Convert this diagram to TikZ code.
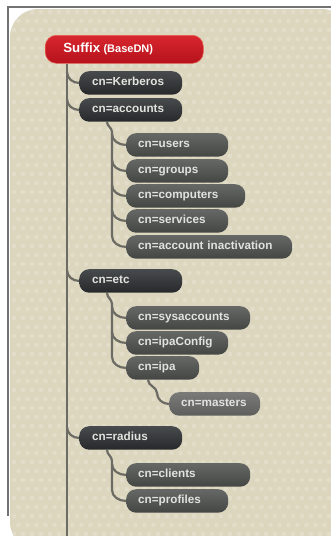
\documentclass[tikz,border=0pt]{standalone}
\usepackage{fontspec}
\setmainfont{Liberation Sans}
\usetikzlibrary{calc}
\pgfdeclarelayer{bg}
\pgfsetlayers{bg,main}
\definecolor{panel}{RGB}{220,214,191}
\definecolor{dotc}{RGB}{226,221,201}
\definecolor{framec}{RGB}{115,115,115}
\definecolor{connc}{RGB}{108,107,100}
\definecolor{redtop}{RGB}{216,38,46}
\definecolor{redbot}{RGB}{182,18,28}
\definecolor{redline}{RGB}{228,96,80}
\definecolor{dAtop}{RGB}{72,75,77}
\definecolor{dAbot}{RGB}{38,40,42}
\definecolor{dBtop}{RGB}{102,104,102}
\definecolor{dBbot}{RGB}{68,70,68}
\definecolor{dCtop}{RGB}{122,123,120}
\definecolor{dCbot}{RGB}{94,95,92}
\definecolor{txt}{RGB}{226,226,222}
\begin{document}
\begin{tikzpicture}[x=1pt,y=-1pt,
  box/.style={anchor=north west, rounded corners=10pt, minimum height=23.5pt,
    inner ysep=0pt, inner xsep=12pt, text height=8.6pt, text depth=2.6pt,
    align=left, text=txt, font=\fontsize{11.7}{14}\selectfont\bfseries},
  lvlone/.style={box, inner xsep=13pt, top color=dAtop, bottom color=dAbot, text width=#1},
  lvltwo/.style={box, top color=dBtop, bottom color=dBbot, text width=#1},
  lvlthree/.style={box, top color=dCtop, bottom color=dCbot, text width=#1},
  rootbox/.style={anchor=north west, rounded corners=11pt, minimum height=28pt,
    inner ysep=0pt, inner xsep=18pt, text height=9.6pt, text depth=3pt,
    align=left, text=white, top color=redtop, bottom color=redbot,
    draw=redline, line width=0.6pt, text width=#1},
  conn/.style={draw=connc, line width=2.2pt}
]
\clip (0,0) rectangle (330,536);
\useasboundingbox (0,0) rectangle (330,536);

% nodes
\node[rootbox=122pt] (suffix) at (45,35)
  {\fontsize{13.3}{15}\selectfont\bfseries Suffix \fontsize{11}{13}\selectfont(BaseDN)};
\node[lvlone=77pt] (kerb) at (79,71) {cn=Kerberos};
\node[lvlone=77pt] (acc) at (79,98) {cn=accounts};
\node[lvltwo=78pt] (users) at (126,133) {cn=users};
\node[lvltwo=78pt] (groups) at (126,159) {cn=groups};
\node[lvltwo=95pt] (comp) at (126,184) {cn=computers};
\node[lvltwo=78pt] (serv) at (126,209) {cn=services};
\node[lvltwo=142pt] (inact) at (126,235) {cn=account inactivation};
\node[lvlone=77pt] (etc) at (79,269) {cn=etc};
\node[lvltwo=100pt] (sysacc) at (126,306) {cn=sysaccounts};
\node[lvltwo=78pt] (ipacfg) at (126,331) {cn=ipaConfig};
\node[lvltwo=49pt] (ipa) at (126,356) {cn=ipa};
\node[lvlthree=67pt] (masters) at (169,392) {cn=masters};
\node[lvlone=77pt] (radius) at (79,426) {cn=radius};
\node[lvltwo=100pt] (clients) at (126,463) {cn=clients};
\node[lvltwo=78pt] (profiles) at (126,489) {cn=profiles};

\begin{pgfonlayer}{bg}
\fill[white] (0,0) rectangle (330,536);
\draw[framec, line width=1.2pt] (8,516) -- (8,7) -- (331,7);
\fill[panel, rounded corners=28pt] (10,9) rectangle (350,550);
\begin{scope}
  \clip[rounded corners=28pt] (10,9) rectangle (350,550);
  \foreach \i in {0,...,36} \foreach \j in {0,...,59}
    \fill[dotc] ({14+9*\i+4.5*mod(\j,2)}, {12+9*\j}) circle (2.3pt);
\end{scope}

% trunk
\coordinate (tend) at (67,536);
\draw[conn] (suffix.south -| tend) -- (tend);
\foreach \n in {kerb,acc,etc,radius}
  \draw[conn] ($(\n.west -| tend)+(0,-11)$) to[out=-90,in=180] (\n.west);

% accounts subtree
\coordinate (av) at (112,132);
\draw[conn] ($(acc.south west)+(28,0)$) to[out=-90,in=90] (av)
  -- ($(inact.west -| av)+(0,-11)$) to[out=-90,in=180] (inact.west);
\foreach \n in {users,groups,comp,serv}
  \draw[conn] ($(\n.west -| av)+(0,-11)$) to[out=-90,in=180] (\n.west);

% etc subtree
\coordinate (ev) at (112,304);
\draw[conn] ($(etc.south west)+(28,0)$) to[out=-90,in=90] (ev)
  -- ($(ipa.west -| ev)+(0,-11)$) to[out=-90,in=180] (ipa.west);
\foreach \n in {sysacc,ipacfg}
  \draw[conn] ($(\n.west -| ev)+(0,-11)$) to[out=-90,in=180] (\n.west);

% ipa subtree
\draw[conn] ($(ipa.south west)+(22,0)$) to[out=-90,in=90] ($(masters.west)+(-12,-11)$)
  to[out=-90,in=180] (masters.west);

% radius subtree
\coordinate (rv) at (112,461);
\draw[conn] ($(radius.south west)+(28,0)$) to[out=-90,in=90] (rv)
  -- ($(profiles.west -| rv)+(0,-11)$) to[out=-90,in=180] (profiles.west);
\draw[conn] ($(clients.west -| rv)+(0,-11)$) to[out=-90,in=180] (clients.west);
\end{pgfonlayer}
\end{tikzpicture}
\end{document}
